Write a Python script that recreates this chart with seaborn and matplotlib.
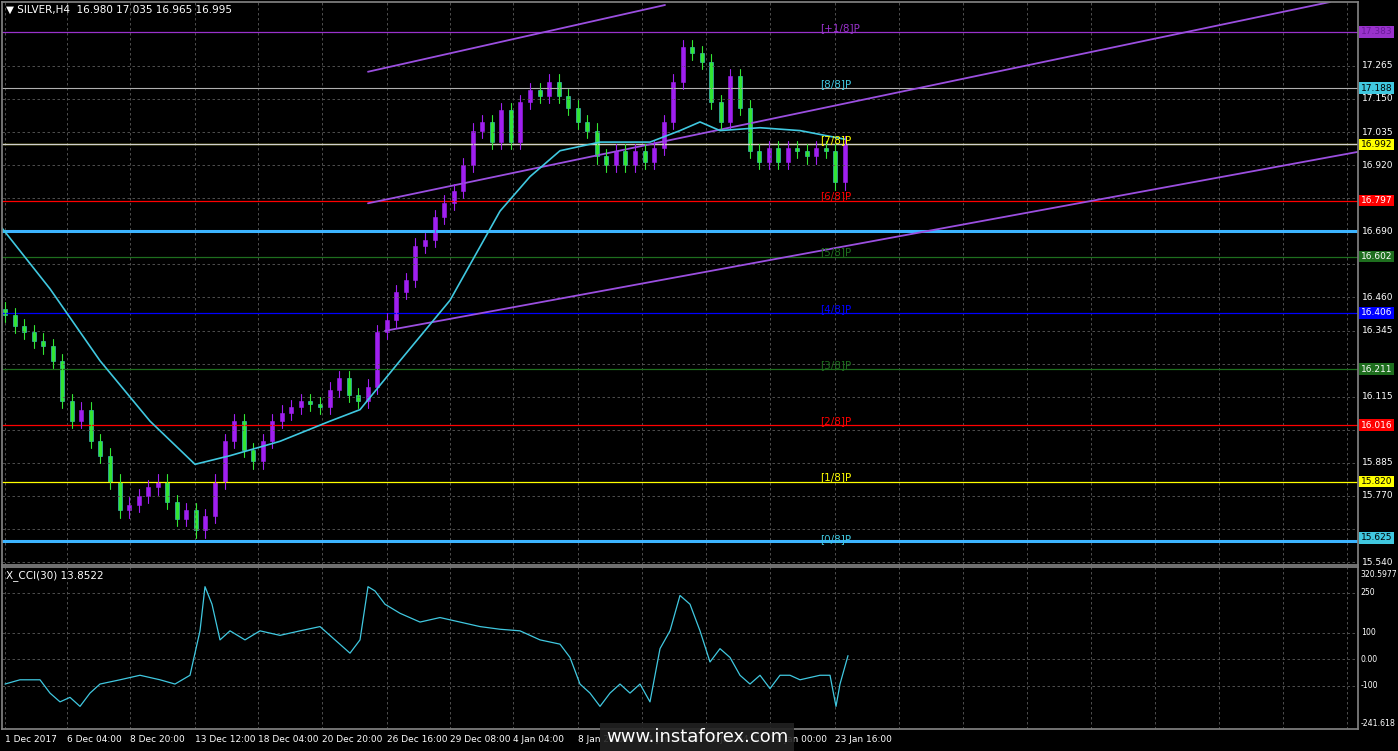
import matplotlib
matplotlib.use("Agg")
import matplotlib.pyplot as plt
import seaborn as sns
import numpy as np
import pandas as pd

closes = [16.40,16.36,16.34,16.31,16.29,16.24,16.10,16.03,16.07,15.96,15.91,15.82,15.72,15.74,15.77,15.80,15.82,
          15.75,15.69,15.72,15.65,15.70,15.82,15.96,16.03,15.93,15.89,15.96,16.03,16.06,16.08,16.10,16.09,16.08,
          16.14,16.18,16.12,16.10,16.15,16.34,16.38,16.48,16.52,16.64,16.66,16.74,16.79,16.83,16.92,17.04,17.07,
          17.00,17.11,17.00,17.14,17.18,17.16,17.21,17.16,17.12,17.07,17.04,16.95,16.92,16.97,16.92,16.97,16.93,
          16.98,17.07,17.21,17.33,17.31,17.28,17.14,17.07,17.23,17.12,16.97,16.93,16.98,16.93,16.98,16.97,16.95,
          16.98,16.97,16.86,16.995]
ma_idx = [-0.5,4.5,9.5,14.5,19,22.5,27.5,32.5,35.5,39.5,44.5,49.5,52.5,55.5,59.5,64.5,67.5,69.5,71.5,75.5,79.5,84]
ma_val = [16.71,16.49,16.24,16.03,15.88,15.91,15.96,16.03,16.07,16.24,16.45,16.76,16.88,16.97,17.00,17.00,17.04,17.07,17.04,17.05,17.04,17.01]
cci_idx = [0,1.5,3.5,4.5,5.5,6.5,7.5,8.5,9.5,11.5,13.5,15.5,17,18.5,19.5,20,20.7,21.5,22.5,24,25.5,27.5,29.5,31.5,33,34.5,35.5,
           36.3,37,38,39.5,41.5,43.5,45.5,47.5,49.5,51.5,53.5,55.5,56.5,57.5,58.5,59.5,60.5,61.5,62.5,63.5,64.5,65.5,66.5,
           67.5,68.5,69.5,70.5,71.5,72.5,73.5,74.5,75.5,76.5,77.5,78.5,79.5,81.5,82.5,83.1,83.5,84.3]
cci_val = [-93,-77,-77,-127,-160,-143,-177,-127,-93,-77,-60,-77,-93,-60,107,273,207,73,107,73,107,90,107,123,73,23,73,
           273,257,207,173,140,157,140,123,113,107,73,57,7,-93,-127,-177,-127,-93,-127,-93,-160,40,107,240,207,107,-10,40,
           7,-60,-93,-60,-110,-60,-60,-77,-60,-60,-177,-93,13.85]
dates = ["1 Dec 2017","6 Dec 04:00","8 Dec 20:00","13 Dec 12:00","18 Dec 04:00","20 Dec 20:00","26 Dec 16:00",
         "29 Dec 08:00","4 Jan 04:00","8 Jan 20:00","11 Jan 12:00","16 Jan 04:00","19 Jan 00:00","23 Jan 16:00"]
date_px = [5,67,130,195,258,322,387,450,513,578,642,706,770,835]
price_ticks = [17.265,17.150,17.035,16.920,16.805,16.690,16.575,16.460,16.345,16.230,16.115,16.000,15.885,15.770,15.655,15.540]
levels = [17.383,17.188,16.992,16.797,16.602,16.406,16.211,16.016,15.820,15.625]
level_names = ["[+1/8]P","[8/8]P","[7/8]P","[6/8]P","[5/8]P","[4/8]P","[3/8]P","[2/8]P","[1/8]P","[0/8]P"]
level_cols = ["#9932CC","#40C8E0","#FFFF00","#FF0000","#1E6E1E","#0000FF","#1E6E1E","#FF0000","#FFFF00","#40C8E0"]

sns.set_theme(style="dark")
plt.rcParams['font.family'] = ['DejaVu Sans']
W, H = 1398, 751
fig = plt.figure(figsize=(W/100, H/100), dpi=100, facecolor="black")
def px2x(p): return (p-5)/10.0
axr = 1358
ax = fig.add_axes([2/W, 1-565/H, (axr-2)/W, 563/H])
ax2 = fig.add_axes([2/W, 1-729/H, (axr-2)/W, 162/H])
for a in (ax, ax2):
    a.set_facecolor("black")
    for s in a.spines.values(): s.set_color("#808080")
    a.set_xlim(px2x(2), px2x(axr))
ax.set_ylim(15.530, 17.487)
ax2.set_ylim(-262, 347)

for p in date_px + [899,963,1027,1091,1155,1219,1283,1347]:
    for a in (ax, ax2):
        a.axvline(px2x(p), color="#5a5a5a", lw=0.6, ls=(0,(3,3)))
for t in price_ticks:
    ax.axhline(t, color="#5a5a5a", lw=0.6, ls=(0,(3,3)))
for t in [250,100,0,-100]:
    ax2.axhline(t, color="#5a5a5a", lw=0.6, ls=(0,(3,3)))

for lv, c in zip(levels, level_cols):
    if c == "#40C8E0":
        continue
    ax.axhline(lv, color=c, lw=0.9)
ax.axhline(16.992, color="#d0d0d0", lw=0.9)
ax.axhline(16.69, color="#3cb4ff", lw=2.2)
ax.axhline(15.615, color="#3cb4ff", lw=2.2)
ax.axhline(17.188, color="#b0b0b0", lw=0.8)

def py2p(y): return 17.487 - y/288.7
for (x0,y0,x1,y1) in [(368,70,665,3),(368,202,1330,0),(385,330,1398,143)]:
    ax.plot([px2x(x0),px2x(x1)],[py2p(y0),py2p(y1)], color="#9B4FE0", lw=1.3)

n = len(closes)
xs = np.arange(n) * (84.0/(n-1))
o = [closes[0]+0.02] + closes[:-1]
for x,op,cl in zip(xs, o, closes):
    up = cl >= op
    col = "#A020F0" if up else "#32E632"
    hi = max(op,cl)+0.025; lo = min(op,cl)-0.025
    ax.plot([x,x],[lo,hi], color=col, lw=0.8)
    ax.bar(x, max(abs(cl-op),0.004), bottom=min(op,cl), width=0.4, color=col,
           edgecolor="#40C8E0" if not up else col, lw=0.4)

sns.lineplot(x=ma_idx, y=ma_val, ax=ax, color="#40C8E0", lw=1.2)
sns.lineplot(x=cci_idx, y=cci_val, ax=ax2, color="#40C8E0", lw=0.9)

for a in (ax, ax2):
    a.set_xticks([]); a.set_yticks([])
    a.set_xlabel(""); a.set_ylabel("")

for t in price_ticks:
    if any(abs(t-lv) < 0.03 for lv in levels):
        continue
    ax.text(1.003, (t-15.530)/(17.487-15.530), f"{t:.3f}", transform=ax.transAxes, color="white", fontsize=6.5, va="center")
for lv, c, nm in zip(levels, level_cols, level_names):
    yy = (lv-15.530)/(17.487-15.530)
    ax.text(1.002, yy, f"{lv:.3f}", transform=ax.transAxes,
            color="white" if c in ("#0000FF","#FF0000","#1E6E1E") else ("#6a1a9a" if c=="#9932CC" else "black"),
            fontsize=6.5, va="center", bbox=dict(boxstyle="square,pad=0.15", fc=c, ec="none"))
    ax.text(px2x(820), lv+0.015 if nm!="[0/8]P" else lv-0.005, nm, color=c, fontsize=7.5, va="center")
for v, s in [(320.6,"320.5977"),(250,"250"),(100,"100"),(0,"0.00"),(-100,"-100"),(-241.6,"-241.618")]:
    ax2.text(1.002, (v+262)/609, s, transform=ax2.transAxes, color="white", fontsize=5.6, va="center")

for d, p in zip(dates, date_px):
    fig.text(p/W, 1-740/H, d, color="white", fontsize=6.5, va="center", ha="left")

fig.text(6/W, 1-10/H, "▼ SILVER,H4  16.980 17.035 16.965 16.995", color="white", fontsize=7.5, va="center")
fig.text(6/W, 1-576/H, "X_CCI(30) 13.8522", color="white", fontsize=7.5, va="center")
fig.text(697/W, 1-737/H, "www.instaforex.com", color="white", fontsize=13, ha="center", va="center",
         bbox=dict(boxstyle="square,pad=0.3", fc="#222222", ec="none", alpha=0.9))
fig.savefig("out.png", dpi=100, facecolor="black")
